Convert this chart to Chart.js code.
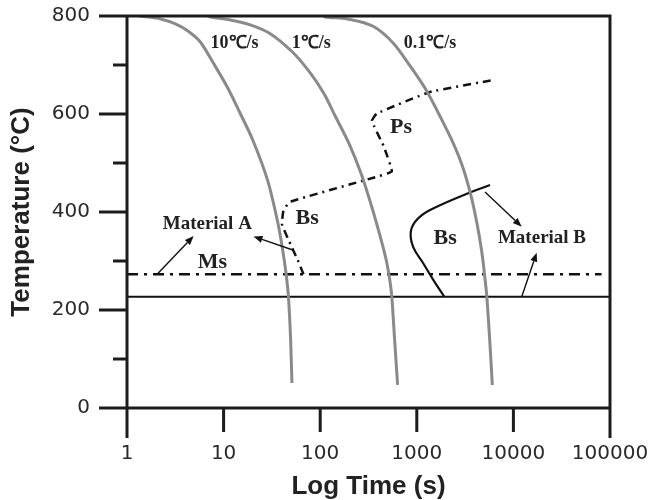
<!DOCTYPE html>
<html>
<head>
<meta charset="utf-8">
<script src="https://cdn.jsdelivr.net/npm/chart.js@4/dist/chart.umd.min.js"></script>
<style>html,body{margin:0;padding:0;background:#fff}</style>
</head>
<body>
<canvas id="c" width="650" height="500"></canvas>
<script>
// ---- tick values ----
const xTickValues = [1, 10, 100, 1000, 10000, 100000];
const yTickValues = [0, 200, 400, 600, 800];
const yMinorTickValues = [100, 300, 500, 700];

// ---- cooling curves: time (s) and temperature (°C) ----
const rate10Time = [1.35, 1.48, 2.22, 3.17, 4.31, 5.74, 7.88, 10.84, 14.88, 20.04, 28.51, 36.43, 40.95, 44.41, 46.91, 49.42, 50.97];
const rate10Temp = [800, 799, 794, 784, 769, 747, 703, 656, 601, 547, 465, 378, 322, 273, 227, 139, 51];
const rate1Time = [6.9, 7.29, 11.73, 18.89, 30.4, 51.3, 78.8, 110, 142.9, 199.5, 265.5, 344.9, 427.4, 487.2, 525.7, 551.3, 589.3, 633];
const rate1Temp = [800, 798, 792, 782, 764, 727, 684, 641, 596, 539, 478, 408, 343, 298, 261, 227, 139, 47];
const rate01Time = [108, 112.6, 204.3, 353.3, 568.7, 852.5, 1248, 1742, 2374, 3011, 3644, 4204, 4679, 5024, 5308, 5686, 6050];
const rate01Temp = [800, 798, 793, 779, 745, 698, 649, 595, 541, 490, 433, 376, 322, 273, 227, 139, 47];

// ---- Material A (dash-dot) Bs / Ps start curve ----
const matATime = [67.1, 59.7, 47.0, 40.2, 41.7, 49.0, 356, 551, 452, 343, 385, 1371, 6457];
const matATemp = [273, 298, 343, 375, 404, 421, 470, 483, 535, 586, 601, 645, 670];

// ---- Material B (solid) Bs curve ----
const matBTime = [5728, 3556, 1371, 1000, 867, 916, 1169, 1486, 1928];
const matBTemp = [455, 440, 404, 384, 360, 329, 295, 261, 227];

// ---- Ms lines ----
const msATime = [1, 81800];
const msATemp = [273, 273];
const msBTime = [1, 100000];
const msBTemp = [227, 227];

// ---- text annotations (data units) ----
const noteTexts = ['10\u2103/s', '1\u2103/s', '0.1\u2103/s', 'Ps', 'Bs', 'Bs', 'Material A', 'Ms', 'Material B'];
const noteTimes = [12.97, 80.7, 1372, 688, 73.4, 1963, 6.78, 7.64, 19770];
const noteTemps = [745, 745, 745, 572, 388, 347, 376, 298, 347];

// ---- arrows (data units) ----
const arrowFromTime = [2.05, 53, 5086, 12190];
const arrowFromTemp = [273, 322, 441, 227];
const arrowToTime = [4.9, 20.4, 12190, 17420];
const arrowToTemp = [351, 350, 370, 317];

const pts = (t, v) => t.map((x, i) => ({x: x, y: v[i]}));
const noteStyles = [
  'bold 18px "Liberation Serif", serif',
  'bold 18px "Liberation Serif", serif',
  'bold 18px "Liberation Serif", serif',
  'bold 22px "Liberation Serif", serif',
  'bold 22px "Liberation Serif", serif',
  'bold 22px "Liberation Serif", serif',
  'bold 19px "Liberation Serif", serif',
  'bold 22px "Liberation Serif", serif',
  'bold 19px "Liberation Serif", serif'
];

const AXIS = '#1c1c1c';
const decor = {
  id: 'decor',
  afterDraw(chart) {
    const {ctx, scales: {x, y}} = chart;
    const xL = x.getPixelForValue(xTickValues[0]);
    const xR = x.getPixelForValue(xTickValues[xTickValues.length - 1]);
    const yT = y.getPixelForValue(800);
    const yB = y.getPixelForValue(0);
    ctx.save();
    ctx.strokeStyle = AXIS;
    ctx.lineWidth = 3;
    ctx.lineCap = 'butt';
    ctx.beginPath();
    ctx.moveTo(xL, yT - 1.5); ctx.lineTo(xL, yB + 30);
    ctx.moveTo(xR, yT - 1.5); ctx.lineTo(xR, yB + 30);
    yTickValues.forEach(v => {
      const p = y.getPixelForValue(v);
      ctx.moveTo(xL - 28, p);
      ctx.lineTo((v === 0 || v === 800) ? xR + 1.5 : xL, p);
    });
    yMinorTickValues.forEach(v => {
      const p = y.getPixelForValue(v);
      ctx.moveTo(xL - 14, p); ctx.lineTo(xL, p);
    });
    xTickValues.slice(1, -1).forEach(v => {
      const p = x.getPixelForValue(v);
      ctx.moveTo(p, yB); ctx.lineTo(p, yB + 24);
    });
    ctx.stroke();

    ctx.strokeStyle = '#111';
    ctx.fillStyle = '#111';
    ctx.lineWidth = 1.4;
    arrowFromTime.forEach((t, i) => {
      const x1 = x.getPixelForValue(t), y1 = y.getPixelForValue(arrowFromTemp[i]);
      const x2 = x.getPixelForValue(arrowToTime[i]), y2 = y.getPixelForValue(arrowToTemp[i]);
      const ang = Math.atan2(y2 - y1, x2 - x1);
      const hl = 9, hw = 3.5;
      const bx = x2 - hl * Math.cos(ang), by = y2 - hl * Math.sin(ang);
      ctx.beginPath();
      ctx.moveTo(x1, y1); ctx.lineTo(bx, by); ctx.stroke();
      ctx.beginPath();
      ctx.moveTo(x2, y2);
      ctx.lineTo(bx + hw * Math.sin(ang), by - hw * Math.cos(ang));
      ctx.lineTo(bx - hw * Math.sin(ang), by + hw * Math.cos(ang));
      ctx.closePath(); ctx.fill();
    });

    ctx.fillStyle = '#222';
    ctx.textAlign = 'center';
    ctx.textBaseline = 'middle';
    noteTexts.forEach((s, i) => {
      ctx.font = noteStyles[i];
      ctx.fillText(s, x.getPixelForValue(noteTimes[i]), y.getPixelForValue(noteTemps[i]));
    });
    ctx.restore();
  }
};

const zeroPad = s => { s.paddingTop = 0; s.paddingBottom = 0; s.paddingLeft = 0; s.paddingRight = 0; };
const gray = '#8a8a8a';
new Chart(document.getElementById('c'), {
  type: 'scatter',
  data: {
    datasets: [
      {data: pts(rate10Time, rate10Temp), borderColor: gray, borderWidth: 3, tension: 0.3},
      {data: pts(rate1Time, rate1Temp), borderColor: gray, borderWidth: 3, tension: 0.3},
      {data: pts(rate01Time, rate01Temp), borderColor: gray, borderWidth: 3, tension: 0.3},
      {data: pts(matATime, matATemp), borderColor: '#111', borderWidth: 2.5, borderDash: [8, 5, 2, 5], tension: 0.1},
      {data: pts(matBTime, matBTemp), borderColor: '#111', borderWidth: 2.2, tension: 0.4},
      {data: pts(msATime, msATemp), borderColor: '#111', borderWidth: 2.5, borderDash: [11, 6, 3, 6], tension: 0},
      {data: pts(msBTime, msBTemp), borderColor: '#111', borderWidth: 2.2, tension: 0}
    ].map(d => Object.assign({showLine: true, pointRadius: 0, fill: false}, d))
  },
  options: {
    responsive: false,
    animation: false,
    events: [],
    layout: {padding: {left: 0, right: 40, top: 16, bottom: 0}},
    plugins: {legend: {display: false}, tooltip: {enabled: false}},
    scales: {
      x: {
        type: 'logarithmic', min: 1, max: 100000,
        afterBuildTicks: s => { s.ticks = xTickValues.map(v => ({value: v})); },
        afterFit: s => { s.height = 92; zeroPad(s); },
        grid: {display: false, drawTicks: false},
        border: {display: false},
        ticks: {
          autoSkip: false, maxRotation: 0, padding: 34, color: '#2a2a2a',
          font: {family: '"DejaVu Sans", sans-serif', size: 20},
          callback: v => String(v)
        },
        title: {display: true, text: 'Log Time (s)', color: '#222',
          font: {family: '"Liberation Sans", Arial, sans-serif', size: 26, weight: 'bold', lineHeight: 1.0}, padding: 0}
      },
      y: {
        min: 0, max: 800,
        afterBuildTicks: s => { s.ticks = yTickValues.map(v => ({value: v})); },
        afterFit: s => { s.width = 127; zeroPad(s); },
        grid: {display: false, drawTicks: false},
        border: {display: false},
        ticks: {
          padding: 37, color: '#2a2a2a',
          font: {family: '"DejaVu Sans", sans-serif', size: 20},
          callback: v => String(v)
        },
        title: {display: true, text: 'Temperature (\u00B0C)', color: '#222',
          font: {family: '"Liberation Sans", Arial, sans-serif', size: 26, weight: 'bold', lineHeight: 1.0}, padding: {top: 9, bottom: 0}}
      }
    }
  },
  plugins: [decor]
});
</script>
</body>
</html>
